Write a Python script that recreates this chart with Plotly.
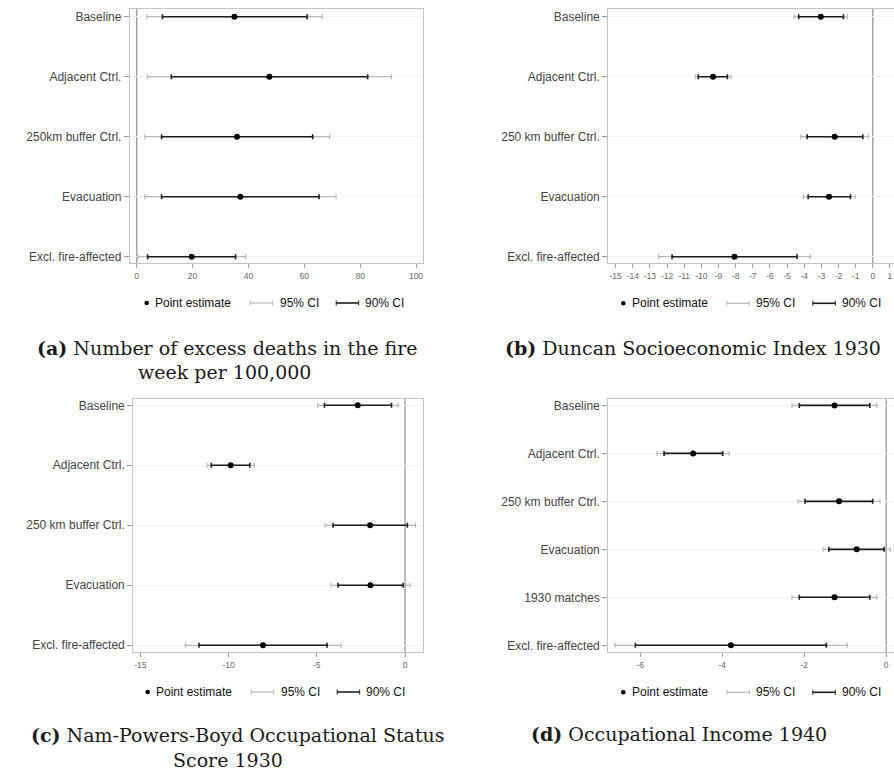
import plotly.graph_objects as go

# ---------------------------------------------------------------
# Estimates and confidence intervals for the four outcomes
# ---------------------------------------------------------------
rows_a = ["Baseline", "Adjacent Ctrl.", "250km buffer Ctrl.", "Evacuation", "Excl. fire-affected"]
est_a = [35.0, 47.5, 35.9, 37.1, 19.7]
lo95_a = [3.6, 3.9, 2.9, 2.9, 0.5]
hi95_a = [66.5, 91.2, 69.1, 71.4, 39.0]
lo90_a = [9.2, 12.4, 8.9, 8.9, 3.9]
hi90_a = [61.0, 82.7, 63.0, 65.3, 35.4]

rows_b = ["Baseline", "Adjacent Ctrl.", "250 km buffer Ctrl.", "Evacuation", "Excl. fire-affected"]
est_b = [-3.03, -9.32, -2.22, -2.55, -8.07]
lo95_b = [-4.59, -10.35, -4.20, -4.05, -12.49]
hi95_b = [-1.48, -8.27, -0.25, -1.03, -3.64]
lo90_b = [-4.32, -10.18, -3.83, -3.77, -11.71]
hi90_b = [-1.71, -8.48, -0.58, -1.30, -4.42]

rows_c = ["Baseline", "Adjacent Ctrl.", "250 km buffer Ctrl.", "Evacuation", "Excl. fire-affected"]
est_c = [-2.68, -9.88, -1.98, -1.96, -8.05]
lo95_c = [-4.95, -11.22, -4.53, -4.19, -12.45]
hi95_c = [-0.38, -8.54, 0.59, 0.28, -3.63]
lo90_c = [-4.57, -10.98, -4.08, -3.80, -11.68]
hi90_c = [-0.77, -8.80, 0.13, -0.11, -4.42]

rows_d = ["Baseline", "Adjacent Ctrl.", "250 km buffer Ctrl.", "Evacuation", "1930 matches", "Excl. fire-affected"]
est_d = [-1.26, -4.71, -1.15, -0.72, -1.26, -3.79]
lo95_d = [-2.30, -5.59, -2.15, -1.54, -2.30, -6.62]
hi95_d = [-0.23, -3.83, -0.15, 0.10, -0.23, -0.95]
lo90_d = [-2.12, -5.42, -1.98, -1.40, -2.12, -6.12]
hi90_d = [-0.40, -3.99, -0.33, -0.05, -0.40, -1.46]

ticks_a = [0, 20, 40, 60, 80, 100]
ticks_b = list(range(-15, 2))
ticks_c = [-15, -10, -5, 0]
ticks_d = [-6, -4, -2, 0]

captions = {
    "a": ["<b>(a)</b> Number of excess deaths in the fire", "week per 100,000"],
    "b": ["<b>(b)</b> Duncan Socioeconomic Index 1930"],
    "c": ["<b>(c)</b> Nam-Powers-Boyd Occupational Status", "Score 1930"],
    "d": ["<b>(d)</b> Occupational Income 1940"],
}

# ---------------------------------------------------------------
# Page geometry (pixels)
# ---------------------------------------------------------------
W, H = 894, 773

def px(xp):
    return xp / W

def py(yp):
    return 1 - yp / H

panels = [
    dict(key="a", rows=rows_a, est=est_a, lo95=lo95_a, hi95=hi95_a, lo90=lo90_a, hi90=hi90_a,
         ticks=ticks_a, frame=(130, 422.7, 9.3, 263.3), xr=[-2.4, 102.4], pad=(0.123, 0.11), right=True,
         legend=(146.7, 303), caps=[(227.5, 348), (224, 372)]),
    dict(key="b", rows=rows_b, est=est_b, lo95=lo95_b, hi95=hi95_b, lo90=lo90_b, hi90=hi90_b,
         ticks=ticks_b, frame=(608.3, 894, 9.3, 263.3), xr=[-15.43, 1.24], pad=(0.123, 0.11), right=False,
         legend=(623.3, 303.3), caps=[(692.5, 348)]),
    dict(key="c", rows=rows_c, est=est_c, lo95=lo95_c, hi95=hi95_c, lo90=lo90_c, hi90=hi90_c,
         ticks=ticks_c, frame=(133.3, 422.7, 398.7, 652.3), xr=[-15.40, 1.0], pad=(0.11, 0.117), right=True,
         legend=(147.7, 692), caps=[(238, 735), (228, 760)]),
    dict(key="d", rows=rows_d, est=est_d, lo95=lo95_d, hi95=hi95_d, lo90=lo90_d, hi90=hi90_d,
         ticks=ticks_d, frame=(608.3, 894, 398.7, 652.3), xr=[-6.78, 0.19], pad=(0.14, 0.146), right=False,
         legend=(623.3, 692.3), caps=[(679, 734)]),
]

GRAY_CI = "#b8b8b8"
DARK_CI = "#1e1e1e"
FRAME = "#c4c4c4"
ZERO = "#a0a0a0"
SANS = "Arial, Liberation Sans, sans-serif"
SERIF = "DejaVu Serif, serif"

fig = go.Figure()
layout = dict(
    width=W, height=H, margin=dict(l=0, r=0, t=0, b=0),
    paper_bgcolor="white", plot_bgcolor="white", showlegend=False,
)
shapes = []
annotations = []

for i, p in enumerate(panels):
    n = i + 1
    xa = "x" if n == 1 else f"x{n}"
    ya = "y" if n == 1 else f"y{n}"
    xkey = "xaxis" if n == 1 else f"xaxis{n}"
    ykey = "yaxis" if n == 1 else f"yaxis{n}"
    yidx = list(range(len(p["rows"])))
    x0, x1, top, bot = p["frame"]

    layout[xkey] = dict(
        domain=[px(x0), px(x1)], anchor=ya, range=p["xr"],
        tickvals=p["ticks"], ticktext=[str(t) for t in p["ticks"]],
        ticks="outside", ticklen=4, tickwidth=1, tickcolor="#9a9a9a",
        tickfont=dict(family=SANS, size=8.5, color="#666666"),
        showgrid=False, zeroline=False,
        showline=True, linecolor=FRAME, linewidth=1.3, mirror=True,
    )
    layout[ykey] = dict(
        domain=[py(bot), py(top)], anchor=xa,
        range=[len(yidx) - 1 + p["pad"][1], -p["pad"][0]],
        tickvals=yidx, ticktext=p["rows"],
        ticks="outside", ticklen=5, tickwidth=1, tickcolor="#9a9a9a",
        tickfont=dict(family=SANS, size=12, color="#444444"),
        showgrid=True, gridcolor="#f3f3f3", gridwidth=1, zeroline=False,
        showline=True, linecolor=FRAME, linewidth=1.3, mirror=p["right"],
    )

    # reference line at zero
    shapes.append(dict(type="line", xref=xa, yref=f"{ya} domain", x0=0, x1=0, y0=0, y1=1,
                       line=dict(color=ZERO, width=1.4), layer="below"))

    est = p["est"]
    # 95% CI
    fig.add_trace(go.Scatter(
        x=est, y=yidx, xaxis=xa, yaxis=ya, mode="markers",
        marker=dict(size=1, color="rgba(0,0,0,0)"),
        error_x=dict(type="data", symmetric=False,
                     array=[h - e for h, e in zip(p["hi95"], est)],
                     arrayminus=[e - l for e, l in zip(est, p["lo95"])],
                     color=GRAY_CI, thickness=1.2, width=2.5),
        hoverinfo="skip"))
    # 90% CI
    fig.add_trace(go.Scatter(
        x=est, y=yidx, xaxis=xa, yaxis=ya, mode="markers",
        marker=dict(size=1, color="rgba(0,0,0,0)"),
        error_x=dict(type="data", symmetric=False,
                     array=[h - e for h, e in zip(p["hi90"], est)],
                     arrayminus=[e - l for e, l in zip(est, p["lo90"])],
                     color=DARK_CI, thickness=1.6, width=2.5),
        hoverinfo="skip"))
    # point estimates
    fig.add_trace(go.Scatter(
        x=est, y=yidx, xaxis=xa, yaxis=ya, mode="markers",
        marker=dict(size=6, color="black"), hoverinfo="skip"))

    # legend key below each panel
    lx, ly = p["legend"]
    shapes.append(dict(type="circle", xref="paper", yref="paper",
                       x0=px(lx - 2.3), x1=px(lx + 2.3), y0=py(ly + 2.3), y1=py(ly - 2.3),
                       fillcolor="black", line=dict(width=0)))
    for (a0, a1, col, wdt) in [(103.5, 126, GRAY_CI, 1.2), (189.5, 212, DARK_CI, 1.6)]:
        shapes.append(dict(type="line", xref="paper", yref="paper",
                           x0=px(lx + a0), x1=px(lx + a1), y0=py(ly), y1=py(ly),
                           line=dict(color=col, width=wdt)))
        for cx in (a0, a1):
            shapes.append(dict(type="line", xref="paper", yref="paper",
                               x0=px(lx + cx), x1=px(lx + cx), y0=py(ly - 2.5), y1=py(ly + 2.5),
                               line=dict(color=col, width=1)))
    for off, txt in [(8.5, "Point estimate"), (133, "95% CI"), (218.5, "90% CI")]:
        annotations.append(dict(xref="paper", yref="paper", x=px(lx + off), y=py(ly),
                                xanchor="left", yanchor="middle", text=txt, showarrow=False,
                                borderpad=0, borderwidth=0,
                                font=dict(family=SANS, size=12, color="#111111")))

    # caption
    for (cx, cy), line in zip(p["caps"], captions[p["key"]]):
        annotations.append(dict(xref="paper", yref="paper", x=px(cx), y=py(cy),
                                xanchor="center", yanchor="middle", text=line, showarrow=False,
                                borderpad=0, borderwidth=0,
                                font=dict(family=SERIF, size=19, color="#1a1a1a")))

layout["shapes"] = shapes
layout["annotations"] = annotations
fig.update_layout(**layout)
fig.write_html("out.html")
